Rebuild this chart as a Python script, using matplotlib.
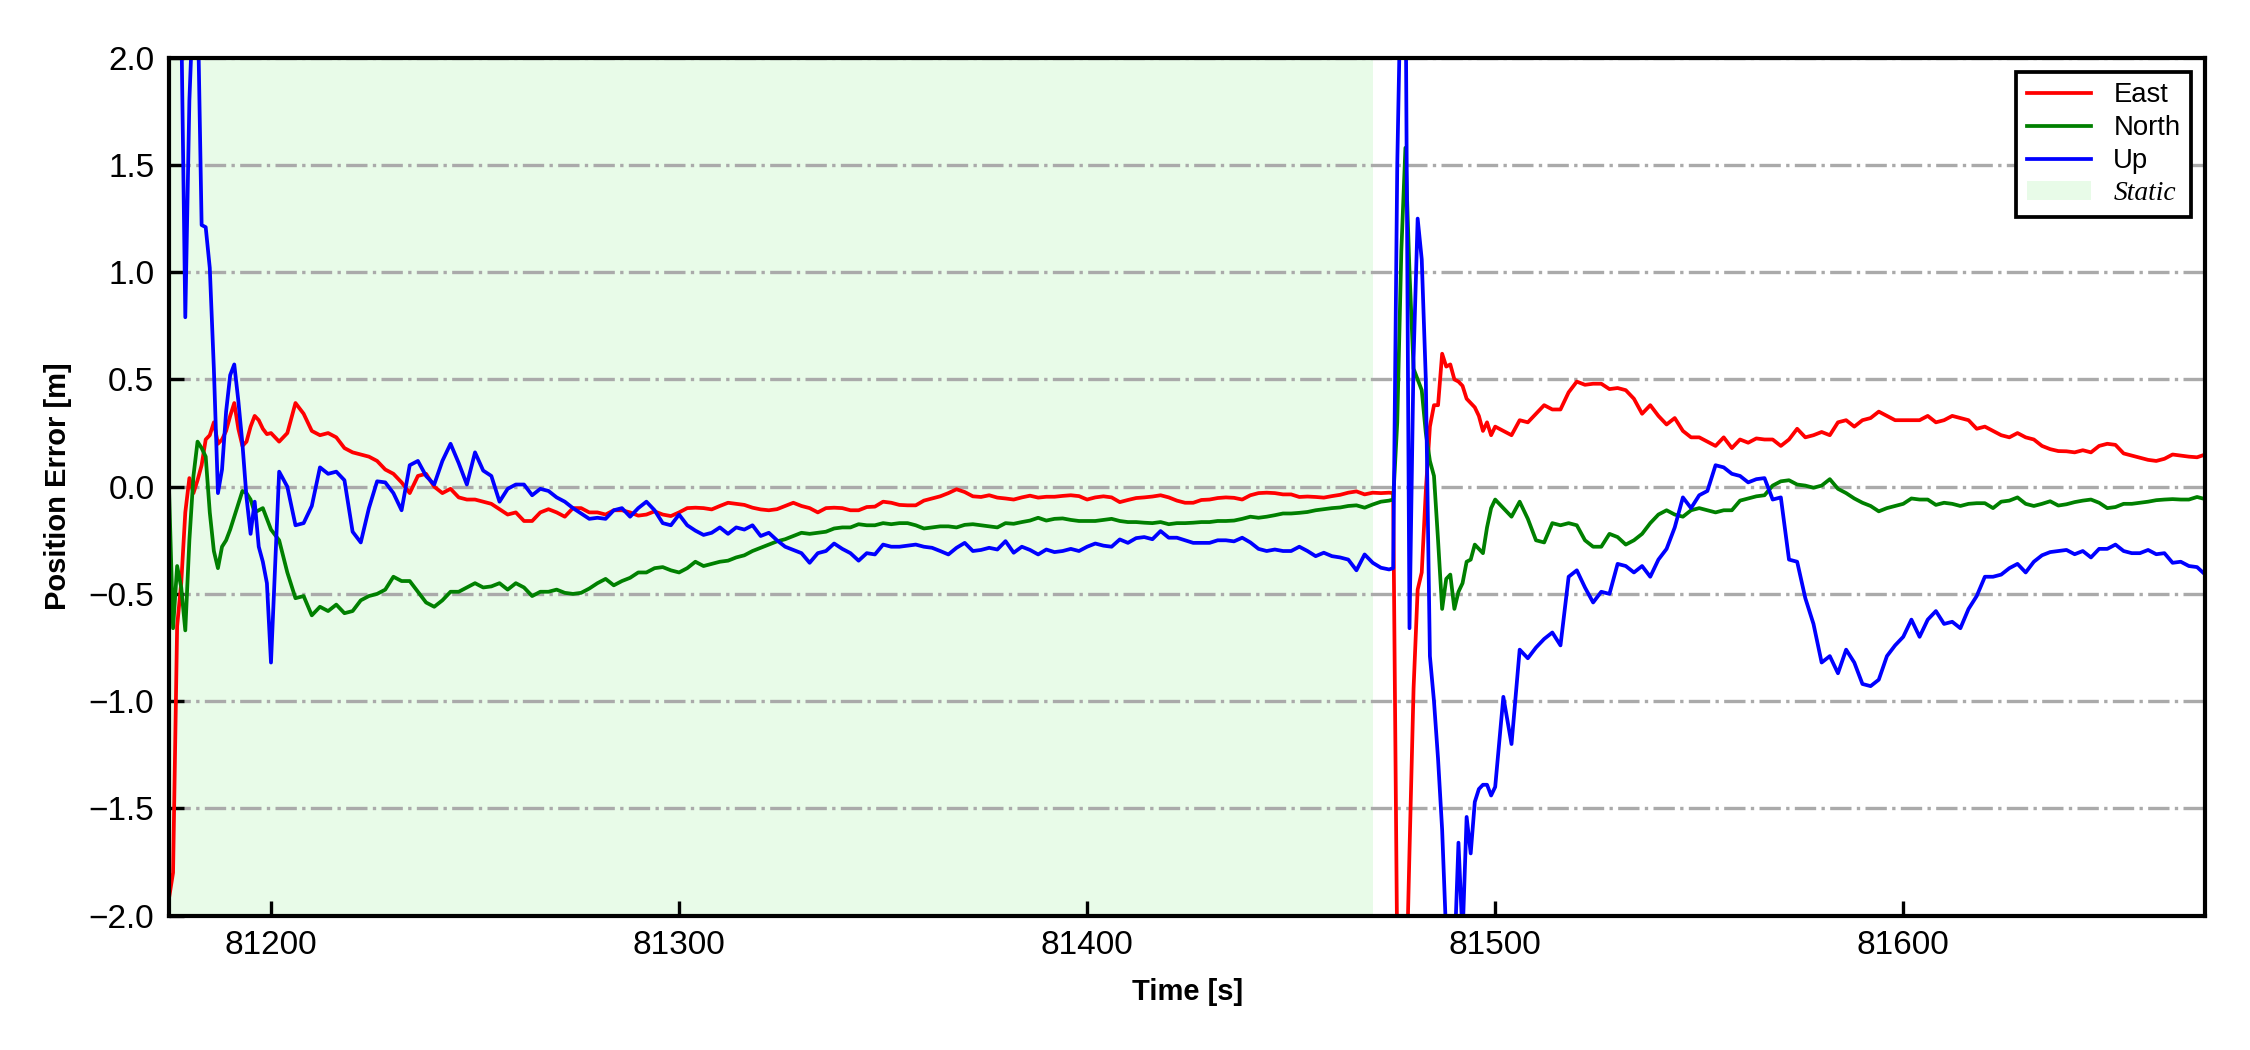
import matplotlib
matplotlib.use("Agg")
import matplotlib.pyplot as plt
import matplotlib.patches as mpatches
import numpy as np

plt.rcParams['font.family'] = ['Liberation Sans', 'DejaVu Sans']

# time grid: 1 s during the transients, 2 s elsewhere
t = np.concatenate([np.arange(81175, 81200), np.arange(81200, 81475, 2),
                    np.arange(81475, 81500), np.arange(81500, 81675, 2)])

static_end = 81470

east = [
    # 81175-81199 (1 s)
    -1.92, -1.80, -0.65, -0.45, -0.12, 0.04, -0.03, 0.03, 0.10, 0.22, 0.24, 0.30, 0.20,
    0.22, 0.26, 0.33, 0.39, 0.27, 0.19, 0.21, 0.28, 0.33, 0.31, 0.27, 0.245,
    # 81200-81474 (2 s)
    0.25, 0.21, 0.25, 0.39, 0.34, 0.26, 0.24, 0.25, 0.23, 0.18,
    0.16, 0.15, 0.14, 0.12, 0.08, 0.06, 0.02, -0.03, 0.05, 0.06,
    0.00, -0.03, -0.01, -0.05, -0.06, -0.06, -0.07, -0.08, -0.105, -0.13,
    -0.12, -0.16, -0.16, -0.12, -0.105, -0.12, -0.14, -0.10, -0.10, -0.12,
    -0.12, -0.13, -0.11, -0.11, -0.12, -0.135, -0.13, -0.115, -0.13, -0.137,
    -0.12, -0.10, -0.098, -0.10, -0.106, -0.09, -0.075, -0.08, -0.085, -0.098,
    -0.106, -0.11, -0.105, -0.09, -0.075, -0.09, -0.10, -0.12, -0.10, -0.098,
    -0.10, -0.11, -0.11, -0.095, -0.093, -0.07, -0.075, -0.085, -0.087, -0.087,
    -0.065, -0.055, -0.045, -0.03, -0.012, -0.025, -0.045, -0.048, -0.04, -0.051,
    -0.055, -0.06, -0.05, -0.042, -0.051, -0.047, -0.047, -0.043, -0.04, -0.044,
    -0.06, -0.05, -0.045, -0.05, -0.072, -0.062, -0.053, -0.05, -0.046, -0.04,
    -0.05, -0.065, -0.075, -0.075, -0.062, -0.06, -0.053, -0.05, -0.052, -0.06,
    -0.04, -0.03, -0.028, -0.03, -0.036, -0.036, -0.048, -0.046, -0.048, -0.051,
    -0.044, -0.038, -0.028, -0.022, -0.036, -0.028, -0.03, -0.028,
    # 81475-81499 (1 s)
    -0.03, -2.2, -2.5, -2.5, -1.7, -0.94, -0.48, -0.40, -0.02, 0.28, 0.38, 0.38, 0.62,
    0.56, 0.57, 0.50, 0.49, 0.47, 0.41, 0.39, 0.37, 0.33, 0.26, 0.30, 0.24,
    # 81500-81674 (2 s)
    0.28, 0.26, 0.24, 0.31, 0.30, 0.34, 0.38, 0.36, 0.36, 0.44,
    0.49, 0.475, 0.48, 0.48, 0.455, 0.46, 0.45, 0.41, 0.34, 0.38,
    0.33, 0.29, 0.32, 0.26, 0.23, 0.23, 0.21, 0.19, 0.23, 0.18,
    0.22, 0.205, 0.225, 0.22, 0.22, 0.19, 0.22, 0.27, 0.23, 0.24,
    0.255, 0.24, 0.30, 0.31, 0.28, 0.31, 0.32, 0.35, 0.33, 0.31,
    0.31, 0.31, 0.31, 0.33, 0.30, 0.31, 0.33, 0.32, 0.31, 0.27,
    0.28, 0.26, 0.24, 0.23, 0.25, 0.23, 0.22, 0.19, 0.175, 0.166,
    0.165, 0.16, 0.17, 0.16, 0.19, 0.20, 0.195, 0.155, 0.145, 0.135,
    0.125, 0.12, 0.13, 0.15, 0.145, 0.14, 0.137, 0.15,
]

north = [
    0.0, -0.66, -0.37, -0.47, -0.67, -0.25, 0.05, 0.21, 0.18, 0.14, -0.12, -0.30, -0.38,
    -0.28, -0.25, -0.20, -0.14, -0.08, -0.02, -0.03, -0.06, -0.12, -0.11, -0.10, -0.15,
    -0.20, -0.25, -0.40, -0.52, -0.51, -0.60, -0.56, -0.58, -0.55, -0.59,
    -0.58, -0.53, -0.51, -0.50, -0.48, -0.42, -0.44, -0.44, -0.49, -0.54,
    -0.56, -0.53, -0.49, -0.49, -0.47, -0.45, -0.47, -0.465, -0.45, -0.48,
    -0.45, -0.47, -0.51, -0.49, -0.49, -0.48, -0.495, -0.50, -0.495, -0.475,
    -0.45, -0.43, -0.46, -0.44, -0.425, -0.40, -0.40, -0.38, -0.375, -0.39,
    -0.40, -0.38, -0.35, -0.37, -0.36, -0.35, -0.345, -0.33, -0.32, -0.30,
    -0.285, -0.27, -0.255, -0.245, -0.23, -0.215, -0.22, -0.215, -0.21, -0.195,
    -0.19, -0.19, -0.175, -0.18, -0.18, -0.17, -0.175, -0.17, -0.17, -0.18,
    -0.195, -0.19, -0.185, -0.185, -0.19, -0.178, -0.175, -0.18, -0.185, -0.19,
    -0.17, -0.173, -0.165, -0.158, -0.145, -0.158, -0.15, -0.148, -0.155, -0.16,
    -0.16, -0.16, -0.155, -0.15, -0.16, -0.165, -0.165, -0.168, -0.17, -0.165,
    -0.175, -0.17, -0.17, -0.168, -0.165, -0.165, -0.16, -0.16, -0.158, -0.15,
    -0.14, -0.145, -0.14, -0.133, -0.125, -0.125, -0.122, -0.118, -0.11, -0.105,
    -0.10, -0.097, -0.09, -0.087, -0.098, -0.083, -0.07, -0.065,
    -0.06, 0.3, 1.1, 1.58, 1.0, 0.55, 0.50, 0.45, 0.25, 0.12, 0.05, -0.25, -0.57,
    -0.43, -0.41, -0.57, -0.49, -0.45, -0.35, -0.34, -0.27, -0.29, -0.31, -0.19, -0.10,
    -0.06, -0.10, -0.14, -0.07, -0.15, -0.25, -0.26, -0.17, -0.18, -0.17,
    -0.18, -0.25, -0.28, -0.28, -0.22, -0.235, -0.27, -0.25, -0.22, -0.17,
    -0.13, -0.11, -0.13, -0.14, -0.11, -0.10, -0.11, -0.12, -0.11, -0.11,
    -0.065, -0.055, -0.045, -0.04, 0.005, 0.025, 0.03, 0.01, 0.005, -0.005,
    0.005, 0.035, -0.01, -0.03, -0.055, -0.075, -0.09, -0.115, -0.10, -0.09,
    -0.08, -0.055, -0.06, -0.06, -0.085, -0.075, -0.08, -0.09, -0.08, -0.077,
    -0.077, -0.10, -0.07, -0.065, -0.05, -0.08, -0.09, -0.08, -0.068, -0.088,
    -0.082, -0.072, -0.065, -0.06, -0.075, -0.10, -0.095, -0.08, -0.08, -0.075,
    -0.07, -0.063, -0.06, -0.058, -0.06, -0.06, -0.048, -0.058,
]

up = [
    2.5, 2.4, 2.2, 2.2, 0.79, 1.8, 2.3, 2.3, 1.22, 1.21, 1.02, 0.55, -0.03,
    0.08, 0.35, 0.52, 0.57, 0.40, 0.20, -0.05, -0.22, -0.07, -0.28, -0.35, -0.45,
    -0.82, 0.07, 0.0, -0.18, -0.17, -0.09, 0.09, 0.06, 0.07, 0.03,
    -0.21, -0.26, -0.10, 0.025, 0.02, -0.03, -0.11, 0.10, 0.12, 0.05,
    0.01, 0.12, 0.20, 0.11, 0.01, 0.16, 0.075, 0.05, -0.07, -0.01,
    0.01, 0.01, -0.04, -0.01, -0.02, -0.05, -0.07, -0.10, -0.125, -0.15,
    -0.145, -0.15, -0.11, -0.10, -0.14, -0.10, -0.07, -0.11, -0.17, -0.18,
    -0.13, -0.18, -0.205, -0.225, -0.215, -0.19, -0.22, -0.19, -0.20, -0.18,
    -0.23, -0.215, -0.25, -0.28, -0.295, -0.31, -0.355, -0.31, -0.30, -0.265,
    -0.29, -0.31, -0.345, -0.31, -0.316, -0.27, -0.28, -0.28, -0.275, -0.27,
    -0.28, -0.285, -0.30, -0.316, -0.285, -0.262, -0.30, -0.295, -0.285, -0.293,
    -0.254, -0.308, -0.28, -0.295, -0.316, -0.293, -0.305, -0.30, -0.29, -0.30,
    -0.28, -0.265, -0.275, -0.28, -0.246, -0.262, -0.24, -0.235, -0.245, -0.207,
    -0.238, -0.238, -0.25, -0.262, -0.262, -0.262, -0.25, -0.25, -0.255, -0.238,
    -0.26, -0.29, -0.30, -0.293, -0.30, -0.30, -0.28, -0.30, -0.324, -0.308,
    -0.324, -0.33, -0.34, -0.39, -0.316, -0.355, -0.378, -0.386,
    -0.38, 1.5, 2.5, 2.5, -0.66, 0.6, 1.25, 1.06, 0.50, -0.79, -1.0, -1.27, -1.6,
    -2.1, -2.3, -2.2, -1.66, -2.1, -1.54, -1.71, -1.47, -1.41, -1.39, -1.39, -1.44,
    -1.40, -0.98, -1.20, -0.76, -0.80, -0.75, -0.71, -0.68, -0.74, -0.42,
    -0.39, -0.47, -0.54, -0.49, -0.50, -0.36, -0.37, -0.40, -0.37, -0.42,
    -0.34, -0.29, -0.19, -0.05, -0.10, -0.04, -0.02, 0.10, 0.09, 0.06,
    0.05, 0.02, 0.035, 0.04, -0.06, -0.05, -0.34, -0.35, -0.52, -0.64,
    -0.82, -0.79, -0.87, -0.76, -0.82, -0.92, -0.93, -0.90, -0.79, -0.74,
    -0.70, -0.62, -0.70, -0.62, -0.58, -0.64, -0.63, -0.66, -0.57, -0.51,
    -0.42, -0.42, -0.41, -0.38, -0.36, -0.40, -0.35, -0.32, -0.305, -0.30,
    -0.295, -0.315, -0.30, -0.33, -0.29, -0.29, -0.27, -0.30, -0.31, -0.31,
    -0.295, -0.315, -0.31, -0.355, -0.35, -0.37, -0.375, -0.41,
]

fig = plt.figure(figsize=(7.5, 3.5), dpi=300)
ax = fig.add_axes([0.0751, 0.128, 0.905, 0.817])

ax.axvspan(t[0], static_end, color="lightgreen", alpha=0.2, lw=0)
l1, = ax.plot(t, east, "r-", lw=0.9, label="East")
l2, = ax.plot(t, north, "g-", lw=0.9, label="North")
l3, = ax.plot(t, up, "b-", lw=0.9, label="Up")
span = mpatches.Patch(color="lightgreen", alpha=0.2, lw=0, label="Static")

ax.grid(axis="y", linestyle="-.", color="#aaaaaa", lw=0.8)
ax.set_xlim(t[0], t[-1])
ax.set_ylim(-2, 2)
ax.set_xticks([81200, 81300, 81400, 81500, 81600])
ax.set_yticks(np.arange(-2.0, 2.01, 0.5))
ax.tick_params(direction="in", length=3.5, width=0.8, labelsize=8)
for s in ax.spines.values():
    s.set_linewidth(1.0)

ax.set_xlabel("Time [s]", fontsize=7, fontweight="bold")
ax.set_ylabel("Position Error [m]", fontsize=7, fontweight="bold")

leg = ax.legend(handles=[l1, l2, l3, span], loc="upper right", fontsize=6.6,
                labelspacing=0.25, handlelength=2.35, fancybox=False,
                edgecolor="black", framealpha=1)
leg.get_frame().set_linewidth(0.9)
txt = leg.get_texts()[3]
txt.set_fontfamily("Liberation Serif")
txt.set_fontstyle("italic")

plt.savefig("out.png", dpi=300)
